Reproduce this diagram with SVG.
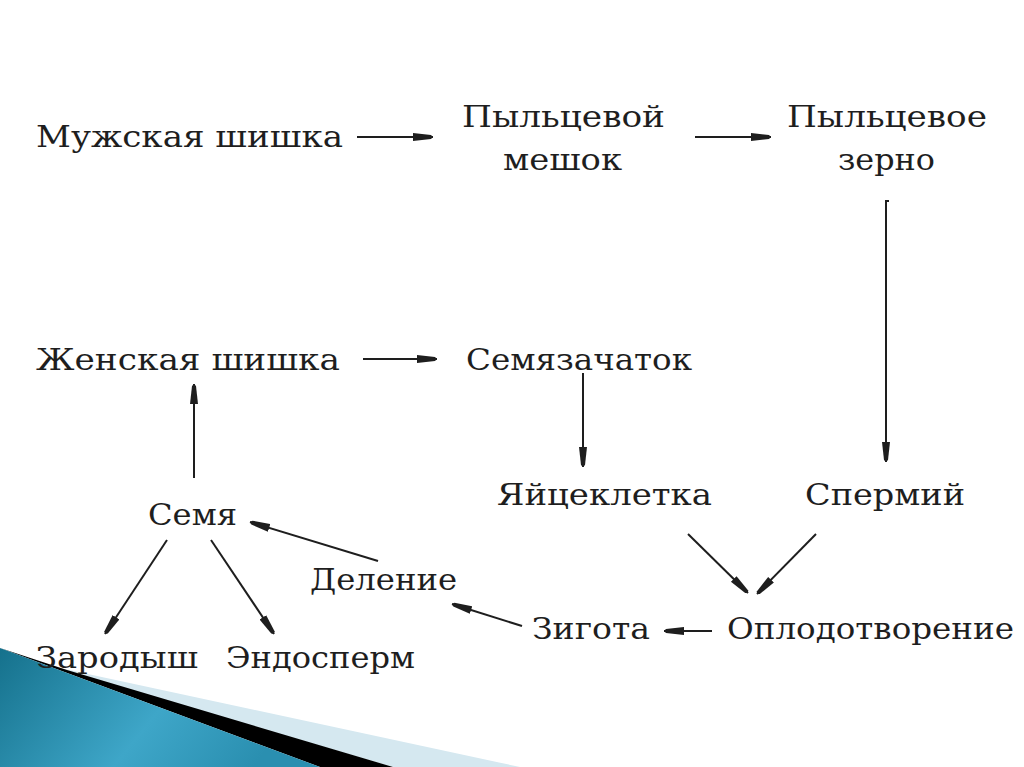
<svg xmlns="http://www.w3.org/2000/svg" width="1024" height="767" viewBox="0 0 1024 767">
<defs>
<marker id="ah" viewBox="0 0 20 10" refX="20" refY="5" markerWidth="20" markerHeight="10" markerUnits="userSpaceOnUse" orient="auto">
<path d="M0,1 L18,3 L20,5 L18,7 L0,9 Z" fill="#1e1e1e"/>
</marker>
<linearGradient id="teal" x1="0" y1="0" x2="1" y2="0.3">
<stop offset="0" stop-color="#15718c"/>
<stop offset="0.6" stop-color="#3ea6c8"/>
<stop offset="1" stop-color="#2a8fb0"/>
</linearGradient>
</defs>
<style>
text{font-family:"DejaVu Serif","Liberation Serif",serif;font-size:30px;fill:#1e1e1e}
.c line{stroke:#1e1e1e;stroke-width:2;marker-end:url(#ah)}
</style>
<rect width="1024" height="767" fill="#fff"/>
<g id="decor">
<polygon points="60,668 520,767 393,767 67,672" fill="#d5e8f0"/>
<polygon points="0,648 67,670 393,767 320,767" fill="#000"/>
<polygon points="0,648 320,767 0,767" fill="url(#teal)"/>
</g>
<g id="n-muzh"><text x="36" y="147" textLength="307" lengthAdjust="spacingAndGlyphs">Мужская шишка</text></g>
<g id="n-meshok"><text x="462" y="127" textLength="203" lengthAdjust="spacingAndGlyphs">Пыльцевой</text><text x="503" y="170" textLength="119" lengthAdjust="spacingAndGlyphs">мешок</text></g>
<g id="n-zerno"><text x="787" y="127" textLength="200" lengthAdjust="spacingAndGlyphs">Пыльцевое</text><text x="838" y="170" textLength="97" lengthAdjust="spacingAndGlyphs">зерно</text></g>
<g id="n-zhen"><text x="36" y="370" textLength="304" lengthAdjust="spacingAndGlyphs">Женская шишка</text></g>
<g id="n-semyaz"><text x="466" y="370" textLength="226" lengthAdjust="spacingAndGlyphs">Семязачаток</text></g>
<g id="n-yaic"><text x="497" y="505" textLength="215" lengthAdjust="spacingAndGlyphs">Яйцеклетка</text></g>
<g id="n-sperm"><text x="805" y="505" textLength="160" lengthAdjust="spacingAndGlyphs">Спермий</text></g>
<g id="n-oplod"><text x="727" y="639" textLength="287" lengthAdjust="spacingAndGlyphs">Оплодотворение</text></g>
<g id="n-zigota"><text x="532" y="639" textLength="118" lengthAdjust="spacingAndGlyphs">Зигота</text></g>
<g id="n-delenie"><text x="310" y="590" textLength="147" lengthAdjust="spacingAndGlyphs">Деление</text></g>
<g id="n-semya"><text x="148" y="525" textLength="89" lengthAdjust="spacingAndGlyphs">Семя</text></g>
<g id="n-zarod"><text x="36" y="668" textLength="162" lengthAdjust="spacingAndGlyphs">Зародыш</text></g>
<g id="n-endo"><text x="226" y="668" textLength="189" lengthAdjust="spacingAndGlyphs">Эндосперм</text></g>
<g id="connectors" class="c">
<line x1="357" y1="137" x2="433" y2="137"/>
<line x1="695" y1="137" x2="771" y2="137"/>
<path d="M889,201 H886 V462" fill="none" stroke="#1e1e1e" stroke-width="2" marker-end="url(#ah)"/>
<line x1="363" y1="359" x2="437" y2="359"/>
<line x1="583" y1="373" x2="583" y2="467"/>
<line x1="688" y1="534" x2="748" y2="593"/>
<line x1="816" y1="534" x2="757" y2="594"/>
<line x1="712" y1="631" x2="664" y2="631"/>
<line x1="522" y1="626" x2="452" y2="604"/>
<line x1="378" y1="561" x2="250" y2="522"/>
<line x1="194" y1="478" x2="194" y2="384"/>
<line x1="167" y1="540" x2="105" y2="634"/>
<line x1="211" y1="540" x2="274" y2="634"/>
</g>
</svg>
